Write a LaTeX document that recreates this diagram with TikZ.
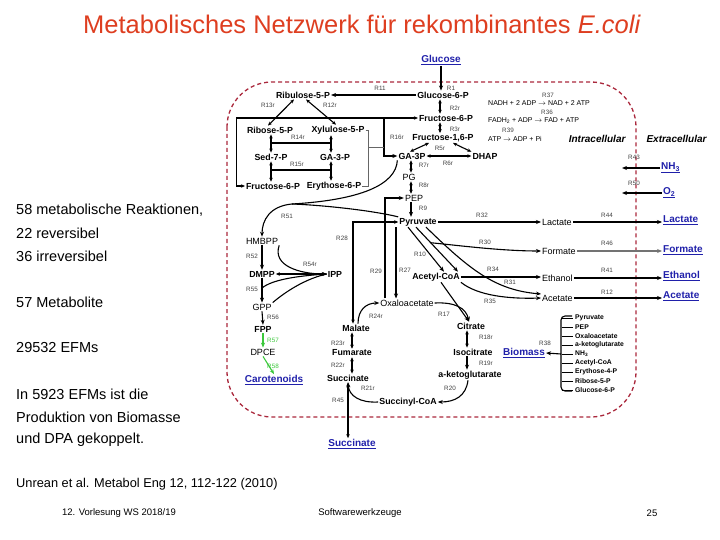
\documentclass[tikz,border=0pt]{standalone}
\usepackage{fontspec}
\setmainfont{Liberation Sans}
\usetikzlibrary{arrows.meta,calc}
\definecolor{titlered}{RGB}{222,62,32}
\definecolor{extblue}{RGB}{32,32,170}
\definecolor{membrane}{RGB}{170,40,60}
\definecolor{caroteen}{RGB}{60,200,60}
\newcommand\metfont{\fontsize{8.8}{10}\selectfont\bfseries}
\newcommand\metlfont{\fontsize{9}{10}\selectfont}
\newcommand\rxnfont{\fontsize{6.3}{7}\selectfont}

\begin{document}
\begin{tikzpicture}[x=1pt,y=-1pt,
    met/.style={inner sep=1pt,font=\metfont},
    metl/.style={inner sep=1pt,font=\metlfont},
    ext/.style={inner sep=1pt,text=extblue,font=\fontsize{10}{12}\selectfont\bfseries},
    rxn/.style={inner sep=0.5pt,text=black!75,font=\rxnfont},
    eq/.style={anchor=west,inner sep=0pt,font=\fontsize{7}{8}\selectfont},
    bio/.style={anchor=west,inner sep=0pt,font=\fontsize{6.8}{7}\selectfont\bfseries},
    txt/.style={anchor=west,inner sep=0pt,font=\fontsize{14.5}{17}\selectfont},
    flux/.style={line width=1.1pt,-{Stealth[length=5pt,width=4pt]}},
    rev/.style={line width=1.1pt,{Stealth[length=4pt,width=3.5pt]}-{Stealth[length=4pt,width=3.5pt]}},
    link/.style={line width=1.1pt},
    thinlink/.style={line width=0.6pt,black!60}]

\useasboundingbox (0,0) rectangle (720,540);

% title and side text
\node[font=\fontsize{25.5}{30}\selectfont,text=titlered] (title) at (362,24)
  {Metabolisches Netzwerk für rekombinantes \textit{E.coli}};
\node[txt] (t1) at (16,210) {58 metabolische Reaktionen,};
\node[txt] (t2) at (16,233) {22 reversibel};
\node[txt] (t3) at (16,256) {36 irreversibel};
\node[txt] (t4) at (16,302) {57 Metabolite};
\node[txt] (t5) at (16,348) {29532 EFMs};
\node[txt] (t6) at (16,394) {In 5923 EFMs ist die};
\node[txt] (t7) at (16,417) {Produktion von Biomasse};
\node[txt] (t8) at (16,440) {und DPA gekoppelt.};
\node[txt,font=\fontsize{12.8}{15}\selectfont] (ref) at (16,484)
  {Unrean et al. Metabol Eng 12, 112-122 (2010)};
\node[font=\fontsize{9.5}{10}\selectfont] (foot1) at (119,513) {12. Vorlesung WS 2018/19};
\node[font=\fontsize{9.5}{10}\selectfont] (foot2) at (360,513) {Softwarewerkzeuge};
\node[font=\fontsize{9.5}{10}\selectfont] (foot3) at (652,513) {25};

% cell boundary
\draw[membrane,dash pattern=on 4pt off 3pt,line width=1.3pt,rounded corners=45pt]
  (227,82) rectangle (636,417);
\node[font=\fontsize{10}{12}\selectfont\bfseries\itshape,anchor=east] (intra) at (629,139) {Intracellular};
\node[font=\fontsize{10}{12}\selectfont\bfseries\itshape,anchor=west] (extra) at (643,139) {Extracellular};

% metabolites
\node[ext] (Glc) at (441,60) {\underline{Glucose}};
\node[met] (G6P) at (443,95) {Glucose-6-P};
\node[met] (Ru5P) at (303,95) {Ribulose-5-P};
\node[met] (F6P) at (446,118) {Fructose-6-P};
\node[met] (R5P) at (270,130) {Ribose-5-P};
\node[met] (X5P) at (338,130) {Xylulose-5-P};
\node[met] (F16P) at (443,138) {Fructose-1,6-P};
\node[met] (S7P) at (271,157) {Sed-7-P};
\node[met] (GAP5) at (335,157) {GA-3-P};
\node[met] (GAP) at (412,156) {GA-3P};
\node[met] (DHAP) at (485,156) {DHAP};
\node[met] (F6Pb) at (273,186) {Fructose-6-P};
\node[met] (E4P) at (334,186) {Erythose-6-P};
\node[metl] (PG) at (409,177) {PG};
\node[metl] (PEP) at (414,198) {PEP};
\node[met] (Pyr) at (418,222) {Pyruvate};
\node[metl] (HMBPP) at (262,241) {HMBPP};
\node[met] (DMPP) at (262,274) {DMPP};
\node[met] (IPP) at (335,274) {IPP};
\node[metl] (GPP) at (262,307) {GPP};
\node[met] (FPP) at (263,329) {FPP};
\node[metl] (DPCE) at (263,352) {DPCE};
\node[ext] (Car) at (274,380) {\underline{Carotenoids}};
\node[met] (AcCoA) at (436,277) {Acetyl-CoA};
\node[metl] (OAA) at (407,303) {Oxaloacetate};
\node[met] (Mal) at (356,328) {Malate};
\node[met] (Fum) at (352,353) {Fumarate};
\node[met] (Suc) at (348,378) {Succinate};
\node[met] (SucCoA) at (408,402) {Succinyl-CoA};
\node[met] (Cit) at (471,326) {Citrate};
\node[met] (ICit) at (473,352) {Isocitrate};
\node[met] (AKG) at (470,375) {a-ketoglutarate};
\node[metl,anchor=west] (Lac) at (541,222) {Lactate};
\node[metl,anchor=west] (For) at (541,251) {Formate};
\node[metl,anchor=west] (EtOH) at (541,278) {Ethanol};
\node[metl,anchor=west] (Ac) at (541,298) {Acetate};

% external metabolites
\node[ext,anchor=west] (LacX) at (662,220) {\underline{Lactate}};
\node[ext,anchor=west] (ForX) at (662,250) {\underline{Formate}};
\node[ext,anchor=west] (EtOHX) at (662,276) {\underline{Ethanol}};
\node[ext,anchor=west] (AcX) at (662,296) {\underline{Acetate}};
\node[ext,anchor=west] (NH3X) at (660,168) {\underline{NH\textsubscript{3}}};
\node[ext,anchor=west] (O2X) at (662,193) {\underline{O\textsubscript{2}}};
\node[ext] (SucX) at (352,444) {\underline{Succinate}};
\node[ext] (Bio) at (524,353) {\underline{Biomass}};

% energy balance
\node[eq] (e37) at (488,103) {NADH + 2 ADP $\rightarrow$ NAD + 2 ATP};
\node[eq] (e36) at (488,121) {FADH\textsubscript{2} + ADP $\rightarrow$ FAD + ATP};
\node[eq] (e39) at (488,139) {ATP $\rightarrow$ ADP + Pi};

% biomass precursors
\foreach \m [count=\i] in {Pyruvate,PEP,Oxaloacetate,a-ketoglutarate,NH\textsubscript{3},
    Acetyl-CoA,Erythose-4-P,Ribose-5-P,Glucose-6-P}
  \node[bio] (b\i) at (575,309+9*\i) {\m};
\foreach \i in {1,...,9}
  \draw[line width=0.9pt] (b\i.west) ++(-2,0) -- ++(-11,0);
\draw[line width=1.1pt,rounded corners=4pt] (572,316) -- (561,316) -- (561,391) -- (572,391);
\coordinate (brm) at (561,354);
\draw[flux] (brm) -- (Bio.east);

% reaction labels
\foreach \n/\x/\y in {R1/451/88,R11/380/88,R37/548/95,R2r/455/108,R36/547/112,
    R13r/268/105,R12r/330/105,R3r/455/129,R39/508/130,R14r/298/137,R16r/397/137,
    R5r/440/148,R15r/297/164,R6r/448/163,R7r/424/165,R8r/424/185,R43/634/157,
    R50/634/183,R9/423/208,R51/287/216,R32/482/215,R44/607/215,R28/342/238,
    R30/485/242,R46/607/243,R10/420/254,R52/252/256,R54r/310/264,R34/493/269,
    R41/607/270,R29/376/271,R27/405/270,R31/510/282,R55/252/289,R12/607/292,
    R35/490/301,R56/273/317,R24r/376/316,R17/444/314,R23r/338/343,R18r/486/337,
    R38/545/343,R19r/486/363,R22r/338/365,R21r/368/388,R20/450/388,R45/338/400}
  \node[rxn] (l\n) at (\x,\y) {\n};
\node[rxn,text=caroteen] (lR57) at (273,340) {R57};
\node[rxn,text=caroteen] (lR58) at (273,366) {R58};

% glycolysis and pentose phosphate
\coordinate (cG) at (440,0);
\coordinate (cP) at (411,0);
\coordinate (cA) at (271,0);
\coordinate (cB) at (331,0);
\coordinate (y14) at (0,143);
\coordinate (y15) at (0,170);
\draw[flux] (Glc.south) -- (Glc.south |- G6P.north);
\draw[flux] (G6P.west) -- (Ru5P.east);
\draw[rev] (G6P.south -| cG) -- (F6P.north -| cG);
\draw[rev] (F6P.south -| cG) -- (F16P.north -| cG);
\draw[rev] ([xshift=-9pt]Ru5P.south) -- ([xshift=-2pt]R5P.north);
\draw[rev] ([xshift=3pt]Ru5P.south) -- ([xshift=-2pt]X5P.north);
\draw[rev] (R5P.south -| cA) -- (S7P.north -| cA);
\draw[rev] (X5P.south -| cB) -- (GAP5.north -| cB);
\draw[link] (cA |- y14) -- (cB |- y14);
\draw[rev] (S7P.south -| cA) -- (F6Pb.north -| cA);
\draw[rev] (GAP5.south -| cB) -- (E4P.north -| cB);
\draw[link] (cA |- y15) -- (cB |- y15);
\draw[rev] (F6Pb.west) -- ++(-8,0) |- (F6P.west);
\coordinate (x16) at (384,0);
\coordinate (x16b) at (368,0);
\coordinate (m16) at (368,147);
\draw[flux] (F6P.west -| x16) |- (GAP.west);
\draw[thinlink] (X5P.east) -- (X5P.east -| x16b) -- (E4P.east -| x16b) -- (E4P.east);
\draw[thinlink] (m16) -- (m16 -| x16);
\draw[rev] ([xshift=-2pt]GAP.north) -- ([xshift=-14pt]F16P.south);
\draw[rev] ([xshift=10pt]F16P.south) -- (DHAP.north west);
\draw[rev] (GAP.east) -- (DHAP.west);
\draw[rev] (GAP.south -| cP) -- (PG.north -| cP);
\draw[rev] (PG.south -| cP) -- (PEP.north -| cP);
\draw[flux] (PEP.south -| cP) -- (Pyr.north -| cP);

% isoprenoid branch
\coordinate (j51) at (292,204);
\draw[link] (GAP.south west) .. controls (396,185) and (360,200) .. (j51);
\draw[link] (Pyr.north west) .. controls (370,210) and (320,205) .. (j51);
\draw[flux] (j51) .. controls (270,206) and (262,220) .. (HMBPP.north);
\draw[flux] (HMBPP.south) -- (DMPP.north);
\draw[flux] (HMBPP.south east) .. controls (272,266) and (300,274) .. (IPP.west);
\draw[rev] (DMPP.east) -- (IPP.west);
\draw[flux] (DMPP.south) -- coordinate[pos=0.4] (j55) (GPP.north);
\draw[link] (IPP.west) .. controls (295,276) and (272,280) .. (j55);
\draw[link] (IPP.west) .. controls (300,280) and (278,298) .. (GPP.north east);
\draw[flux] (GPP.south) -- (FPP.north);
\draw[flux,caroteen] (FPP.south) -- (DPCE.north);
\draw[flux,caroteen] (DPCE.south) -- (Car.north);

% pyruvate node and fermentation
\coordinate (x28) at (353,0);
\coordinate (x29) at (385,0);
\coordinate (x27) at (396,0);
\draw[rev] (Mal.north -| x28) |- (Pyr.west);
\draw[flux] (OAA.north -| x29) |- (PEP.west);
\draw[flux] (Pyr.south -| x27) -- (OAA.north -| x27);
\draw[flux] ([xshift=-10pt]Pyr.south) -- ([xshift=8pt]AcCoA.north);
\draw[flux] ([xshift=-2pt]Pyr.south) -- coordinate[pos=0.35] (j30) ([xshift=22pt]AcCoA.north);
\draw[flux] (j30) .. controls (455,245) and (500,251) .. (For.west);
\draw[flux] ([xshift=8pt]Pyr.south) .. controls (470,270) and (495,290) .. ([yshift=4pt]Ac.west);
\draw[flux] (Pyr.east) -- (Pyr.east -| Lac.west);
\draw[flux] (AcCoA.east) -- (AcCoA.east -| EtOH.west);
\draw[flux] (AcCoA.south east) .. controls (478,296) and (510,299) .. (Ac.west);

% TCA cycle
\coordinate (cT) at (467,0);
\coordinate (cM) at (352,0);
\draw[flux] ([xshift=5pt]AcCoA.south) -- ([xshift=-2pt]Cit.north);
\draw[flux] (OAA.east) .. controls (455,302) and (466,308) .. ([xshift=-2pt]Cit.north);
\draw[rev] (Cit.south -| cT) -- (ICit.north -| cT);
\draw[flux] (ICit.south -| cT) -- (AKG.north -| cT);
\draw[flux] ([xshift=-2pt]AKG.south) .. controls (466,396) and (455,402) .. (SucCoA.east);
\draw[flux] (SucCoA.west) .. controls (360,403) and (349,396) .. (Suc.south);
\draw[rev] (Mal.south -| cM) -- (Fum.north -| cM);
\draw[rev] (Fum.south -| cM) -- (Suc.north -| cM);
\draw[flux] ([xshift=2pt]Mal.north) .. controls (358,310) and (366,303) .. (OAA.west);
\draw[rev] (Suc.south) -- (Suc.south |- SucX.north);

% exchange with the medium
\coordinate (nh3in) at (622,168);
\coordinate (o2in) at (622,193);
\draw[flux] (NH3X.west) -- (nh3in);
\draw[flux] (O2X.west) -- (o2in);
\draw[flux] (Lac.east) -- (Lac.east -| LacX.west);
\draw[flux,black!55] (For.east) -- (For.east -| ForX.west);
\draw[flux] (EtOH.east) -- (EtOH.east -| EtOHX.west);
\draw[flux] (Ac.east) -- (Ac.east -| AcX.west);
\end{tikzpicture}
\end{document}
